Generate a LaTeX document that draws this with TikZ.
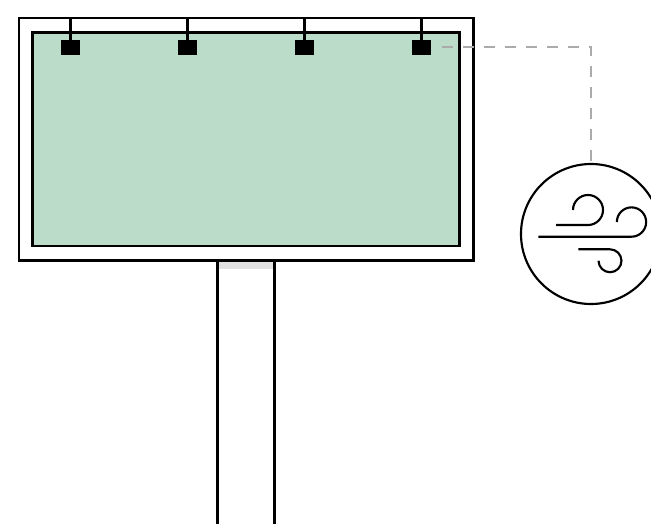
\documentclass[tikz,border=0pt]{standalone}
\definecolor{panelgreen}{HTML}{BBDCC8}
\definecolor{shadowgrey}{HTML}{E0E0E0}
\definecolor{dashgrey}{HTML}{ABABAB}
\tikzset{
  ink/.style={draw=black,line width=1.6pt},
  lamp/.style={fill=black,draw=none,minimum width=14.25pt,minimum height=11.25pt,inner sep=0pt,outer sep=0pt},
  sensor/.style={circle,draw=black,line width=1.6pt,fill=white,minimum size=105pt,inner sep=0pt,outer sep=0pt},
  wire/.style={draw=dashgrey,line width=1.4pt,dash pattern=on 8pt off 7.75pt}
}
\begin{document}
\begin{tikzpicture}[x=0.75pt,y=-0.75pt]
\useasboundingbox (0,0) rectangle (651,524);
\clip (0,0) rectangle (651,524);
% post
\fill[shadowgrey] (218,260.5) rectangle (274,269);
\draw[ink] (217.5,260.5) -- (217.5,524);
\draw[ink] (274.5,260.5) -- (274.5,524);
% board
\draw[ink,fill=white] (19,18) rectangle (473.5,260.5);
\draw[ink,fill=panelgreen] (32.5,32.5) rectangle (459.5,246);
% lamps
\node[lamp] (l1) at (70.5,47.5) {};
\node[lamp] (l2) at (187.5,47.5) {};
\node[lamp] (l3) at (304.5,47.5) {};
\node[lamp] (l4) at (421.5,47.5) {};
\foreach \n/\x in {l1/70.5,l2/187.5,l3/304.5,l4/421.5}{
  \coordinate (t\n) at (\x,18);
  \draw[ink] (t\n) -- (\n.north);
}
% sensor
\node[sensor] (wind) at (591,234) {};
\coordinate (wirestart) at (442,47.3);
\draw[wire] (wirestart) -| (wind.north);
% wind glyph
\begin{scope}[ink,line cap=butt]
\draw (556,225) -- (588,225) arc[start angle=-90,end angle=180,radius=11.25pt];
\draw (538.3,236.7) -- (631.5,236.7) arc[start angle=-90,end angle=180,radius=11pt];
\draw (578.3,249.3) -- (610,249.3) arc[start angle=90,end angle=-180,radius=8.6pt];
\end{scope}
\end{tikzpicture}
\end{document}
